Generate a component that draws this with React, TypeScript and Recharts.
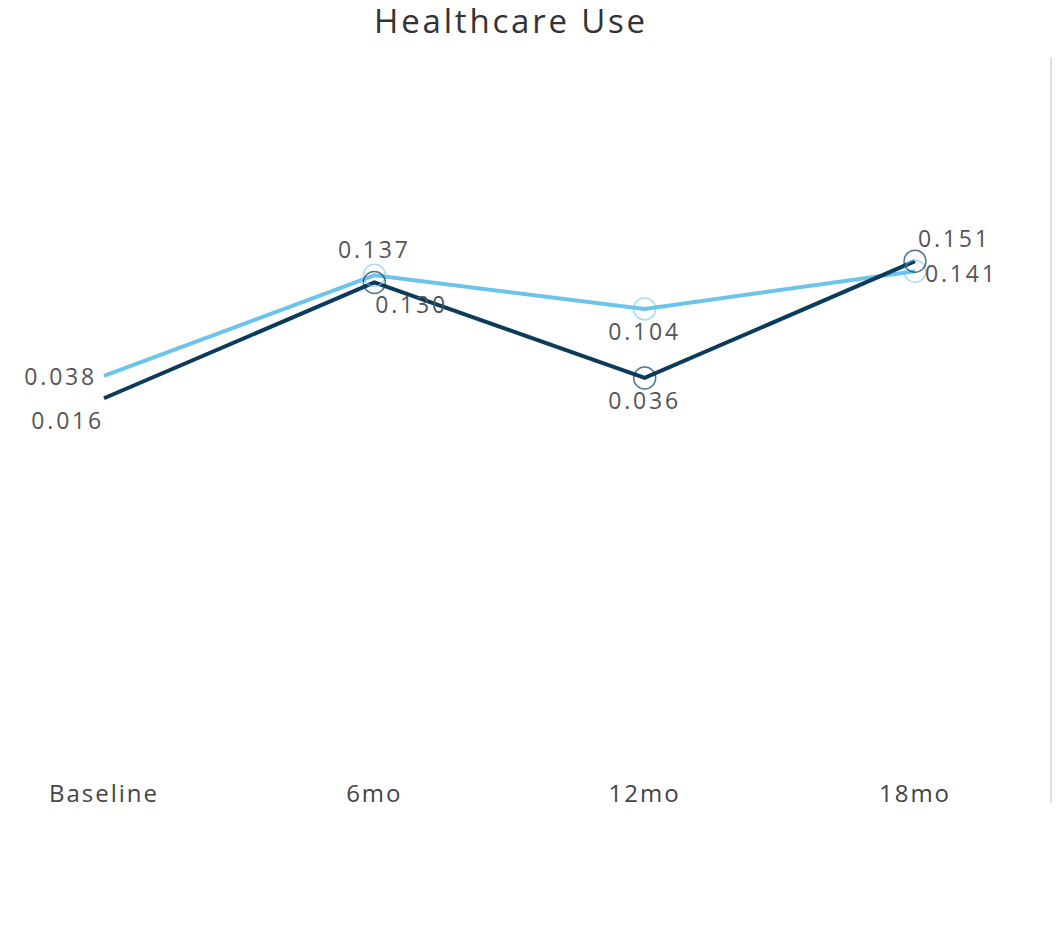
import { LineChart, Line, XAxis, YAxis, LabelList } from "recharts";

const periods = ["Baseline", "6mo", "12mo", "18mo"];
const lightValues = [0.038, 0.137, 0.104, 0.141];
const darkValues = [0.016, 0.13, 0.036, 0.151];

const LIGHT = "#6cc4ea";
const DARK = "#0b3b5b";
const FONT = "'Open Sans', sans-serif";

const data = periods.map((period, i) => ({
  period,
  light: lightValues[i],
  dark: darkValues[i],
}));

// label offsets per point: [dx, dy, anchor]
const lightLabelPos: [number, number, string][] = [
  [-7, 0, "end"],
  [0, -26, "middle"],
  [0, 22, "middle"],
  [10, 2, "start"],
];
const darkLabelPos: [number, number, string][] = [
  [0, 22, "end"],
  [1, 22, "start"],
  [0, 22, "middle"],
  [3, -23, "start"],
];

const makeLabel =
  (pos: [number, number, string][]) =>
  (props: any) => {
    const { x, y, value, index } = props;
    const [dx, dy, anchor] = pos[index];
    return (
      <text
        x={x + dx}
        y={y + dy}
        textAnchor={anchor}
        dominantBaseline="central"
        fill="#555"
        fontSize={23}
        fontFamily={FONT}
        letterSpacing={2.8}
      >
        {value.toFixed(3)}
      </text>
    );
  };

const makeDot = (color: string, opacity: number) => (props: any) => {
  const { cx, cy, index } = props;
  if (index === 0) return <g key={`d-${index}`} />;
  return (
    <circle
      key={`d-${index}`}
      cx={cx}
      cy={cy}
      r={11}
      fill="none"
      stroke={color}
      strokeWidth={1.5}
      strokeOpacity={opacity}
    />
  );
};

const PeriodTick = (props: any) => {
  const { x, y, payload } = props;
  return (
    <text
      x={x}
      y={y + 12}
      textAnchor="middle"
      dominantBaseline="central"
      fill="#444"
      fontSize={24}
      fontFamily={FONT}
      letterSpacing={2}
    >
      {payload.value}
    </text>
  );
};

export default function App() {
  return (
    <div
      style={{
        position: "absolute",
        left: 0,
        top: 0,
        width: 1064,
        height: 941,
        background: "#fff",
        fontFamily: FONT,
      }}
    >
      <div
        style={{
          position: "absolute",
          left: 0,
          width: 1022,
          top: 0,
          textAlign: "center",
          fontSize: 33,
          color: "#333",
          letterSpacing: 2.8,
          lineHeight: "42px",
        }}
      >
        Healthcare Use
      </div>
      <div
        style={{
          position: "absolute",
          left: 1050,
          top: 57,
          width: 2,
          height: 746,
          background: "#dedede",
        }}
      />
      <LineChart
        width={1064}
        height={941}
        data={data}
        margin={{ top: 57, right: 149, bottom: 139, left: 104 }}
      >
        <XAxis
          dataKey="period"
          height={30}
          axisLine={false}
          tickLine={false}
          tick={<PeriodTick />}
          interval={0}
        />
        <YAxis hide domain={[-0.352, 0.352]} width={0} />
        <Line
          dataKey="light"
          stroke={LIGHT}
          strokeWidth={4}
          dot={makeDot(LIGHT, 0.6)}
          activeDot={false}
          isAnimationActive={false}
        >
          <LabelList dataKey="light" content={makeLabel(lightLabelPos)} />
        </Line>
        <Line
          dataKey="dark"
          stroke={DARK}
          strokeWidth={4}
          dot={makeDot(DARK, 0.7)}
          activeDot={false}
          isAnimationActive={false}
        >
          <LabelList dataKey="dark" content={makeLabel(darkLabelPos)} />
        </Line>
      </LineChart>
    </div>
  );
}
